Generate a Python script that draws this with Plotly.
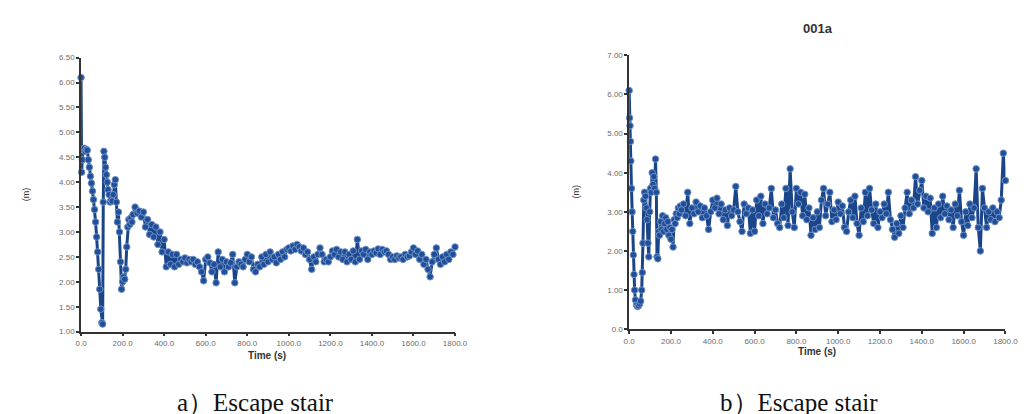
import plotly.graph_objects as go

# ---------------- data ----------------
# Chart a) early part (explicit times, s)
a_t_early = [0, 3, 6, 10, 15, 20, 25, 30, 35, 40, 45, 50, 55, 60, 65, 70, 75, 80, 85, 90,
             95, 100, 104, 107, 110, 114, 118, 122, 126, 130, 135, 140, 145, 150, 155, 160,
             165, 170, 175, 180, 185, 190, 195, 200, 205, 210, 215, 220, 225, 230, 235, 240, 245]
a_v_early = [6.10, 4.20, 4.45, 4.65, 4.68, 4.62, 4.66, 4.64, 4.45, 4.30, 4.12, 3.98, 3.82, 3.65,
             3.45, 3.20, 2.90, 2.60, 2.25, 1.85, 1.45, 1.18, 1.15, 3.60, 4.62, 4.50, 4.30, 4.15,
             4.00, 3.85, 3.75, 3.60, 3.65, 3.62, 3.75, 3.95, 4.05, 3.60, 3.20, 3.40, 3.00, 2.40,
             1.85, 2.00, 2.10, 2.05, 2.25, 2.70, 3.10, 3.25, 3.15, 3.28, 3.20]
# Chart a) from 250 s to 1800 s every 10 s
a_v_late = [
    3.35, 3.50, 3.38, 3.42, 3.30, 3.40, 3.10, 3.25, 2.95, 3.15,   # 250-340
    2.90, 3.10, 2.75, 3.00, 2.60, 2.85, 2.30, 2.60, 2.35, 2.55,   # 350-440
    2.30, 2.55, 2.35, 2.45, 2.40, 2.48, 2.38, 2.45, 2.40, 2.45,   # 450-540
    2.35, 2.40, 2.30, 2.20, 2.02, 2.45, 2.50, 2.38, 2.20, 2.35,   # 550-640
    1.98, 2.60, 2.30, 2.45, 2.20, 2.40, 2.30, 2.38, 2.55, 1.98,   # 650-740
    2.30, 2.40, 2.35, 2.30, 2.45, 2.55, 2.40, 2.50, 2.25, 2.20,   # 750-840
    2.35, 2.30, 2.50, 2.35, 2.55, 2.40, 2.60, 2.45, 2.50, 2.38,   # 850-940
    2.55, 2.45, 2.60, 2.50, 2.65, 2.68, 2.62, 2.72, 2.65, 2.75,   # 950-1040
    2.70, 2.62, 2.68, 2.55, 2.60, 2.45, 2.25, 2.50, 2.40, 2.55,   # 1050-1140
    2.68, 2.55, 2.40, 2.45, 2.40, 2.50, 2.62, 2.55, 2.65, 2.50,   # 1150-1240
    2.60, 2.45, 2.60, 2.40, 2.55, 2.45, 2.62, 2.40, 2.85, 2.45,   # 1250-1340
    2.62, 2.55, 2.65, 2.45, 2.60, 2.55, 2.62, 2.58, 2.66, 2.55,   # 1350-1440
    2.65, 2.60, 2.62, 2.55, 2.45, 2.50, 2.45, 2.52, 2.48, 2.50,   # 1450-1540
    2.45, 2.55, 2.50, 2.52, 2.60, 2.68, 2.55, 2.62, 2.45, 2.55,   # 1550-1640
    2.35, 2.45, 2.25, 2.10, 2.40, 2.55, 2.68, 2.45, 2.35, 2.50,   # 1650-1740
    2.40, 2.55, 2.45, 2.60, 2.55, 2.70,                           # 1750-1800
]

# Chart b) early part (explicit times, s)
b_t_early = [0, 2, 4, 6, 8, 11, 14, 17, 20, 23, 26, 30, 35, 40, 45, 50, 55, 60, 63, 66, 70,
             74, 78, 82, 86, 90, 94, 98, 102, 106, 110, 114, 118, 122, 126, 130, 133, 137, 141,
             145, 150, 155, 160, 165, 170, 175, 180, 185, 190, 195, 200, 205, 210, 215, 220,
             225, 230, 235, 240, 245]
b_v_early = [6.10, 5.40, 5.20, 4.80, 4.30, 3.60, 3.00, 2.50, 1.90, 1.40, 1.00, 0.75, 0.62, 0.58,
             0.60, 0.65, 0.72, 1.00, 1.45, 2.20, 3.30, 3.50, 3.40, 3.10, 2.80, 2.20, 1.85, 3.00,
             3.60, 3.50, 4.00, 3.70, 3.90, 3.60, 4.35, 3.50, 1.85, 1.80, 2.50, 2.40, 2.75, 2.55,
             2.90, 2.50, 2.70, 2.85, 2.55, 2.75, 2.40, 2.60, 2.30, 2.55, 2.10, 2.80, 2.70, 2.95,
             2.85, 3.10, 2.95, 3.15]
# Chart b) from 250 s to 1800 s every 10 s
b_v_late = [
    3.05, 3.20, 2.90, 3.50, 2.70, 3.10, 2.95, 3.25, 3.00, 3.15,   # 250-340
    2.85, 3.10, 2.90, 2.55, 3.00, 3.30, 3.10, 3.35, 2.95, 3.20,   # 350-440
    2.80, 3.05, 2.65, 3.10, 2.90, 3.05, 3.65, 3.00, 2.75, 2.50,   # 450-540
    3.20, 2.95, 3.10, 2.45, 3.05, 2.50, 3.30, 2.90, 3.40, 2.70,   # 550-640
    3.20, 2.95, 3.10, 3.60, 2.85, 3.05, 2.70, 2.60, 3.20, 2.85,   # 650-740
    3.60, 2.65, 4.10, 3.00, 2.60, 3.60, 3.20, 3.50, 2.90, 3.45,   # 750-840
    2.80, 3.10, 2.40, 2.85, 2.55, 3.00, 2.60, 3.30, 3.60, 2.90,   # 850-940
    3.20, 3.50, 2.75, 3.05, 2.80, 3.25, 2.95, 3.15, 2.60, 2.50,   # 950-1040
    3.00, 3.30, 2.85, 3.40, 2.70, 2.40, 3.10, 2.75, 3.50, 2.90,   # 1050-1140
    3.60, 3.05, 2.70, 3.20, 2.60, 3.00, 2.85, 3.20, 2.95, 3.50,   # 1150-1240
    2.80, 2.55, 2.35, 2.70, 2.45, 2.90, 2.60, 3.10, 3.50, 2.95,   # 1250-1340
    3.30, 3.10, 3.90, 3.20, 3.55, 3.80, 3.10, 3.40, 3.00, 3.35,   # 1350-1440
    2.45, 3.10, 2.60, 3.20, 2.85, 3.40, 2.95, 3.15, 2.80, 3.05,   # 1450-1540
    2.60, 3.20, 2.90, 3.55, 2.75, 2.40, 3.00, 2.65, 3.20, 2.85,   # 1550-1640
    3.10, 4.10, 2.60, 2.00, 3.60, 3.10, 2.60, 3.00, 2.80, 3.10,   # 1650-1740
    2.75, 3.00, 2.85, 3.30, 4.50, 3.80,                           # 1750-1800
]

x_ticks = [0, 200, 400, 600, 800, 1000, 1200, 1400, 1600, 1800]
a_y_ticks = [1.0, 1.5, 2.0, 2.5, 3.0, 3.5, 4.0, 4.5, 5.0, 5.5, 6.0, 6.5]
b_y_ticks = [0, 1, 2, 3, 4, 5, 6, 7]
b_y_ticktext = ["0.0", "1.00", "2.00", "3.00", "4.00", "5.00", "6.00", "7.00"]

title_b = "001a"
x_title = "Time (s)"
y_title = "(m)"
caption_a = "a）Escape stair"
caption_b = "b）Escape stair"

a_t = a_t_early + [250 + 10 * i for i in range(len(a_v_late))]
a_v = a_v_early + a_v_late
b_t = b_t_early + [250 + 10 * i for i in range(len(b_v_late))]
b_v = b_v_early + b_v_late

# ---------------- styles ----------------
LINE = "#1b4589"
MFILL = "#1f4f98"
MEDGE = "#6f8fc6"
AXIS = "#333333"
TICKFONT = dict(family="Liberation Sans, Arial, sans-serif", size=8, color="#6b6b6b")

fig = go.Figure()

for t, v, xa, ya in [(a_t, a_v, "x", "y"), (b_t, b_v, "x2", "y2")]:
    fig.add_trace(go.Scatter(
        x=t, y=v, xaxis=xa, yaxis=ya, mode="lines+markers",
        line=dict(color=LINE, width=3),
        marker=dict(symbol="circle", size=6.5, color=MFILL, line=dict(color=MEDGE, width=1)),
        cliponaxis=False, showlegend=False, hoverinfo="x+y",
    ))

common_axis = dict(showgrid=False, zeroline=False, showline=True, linecolor=AXIS,
                   linewidth=1.5, ticks="outside", ticklen=3, tickwidth=1.5,
                   tickcolor=AXIS, tickfont=TICKFONT, fixedrange=True)

# domains from pixel positions in 1033x414
W, H = 1033, 414
ax_l, ax_r = 68.3 / W, 449.3 / W
ay_b, ay_t = 1 - 326.7 / H, 1 - 46.7 / H
bx_l, bx_r = 626.7 / W, 1010.0 / W
by_b, by_t = 1 - 324.3 / H, 1 - 44.3 / H

fig.update_layout(
    width=W, height=H, autosize=False,
    margin=dict(l=0, r=0, t=0, b=0),
    paper_bgcolor="white", plot_bgcolor="white",
    xaxis=dict(domain=[ax_l, ax_r], range=[0, 1800], tickvals=x_ticks,
               tickformat=".1f", anchor="y", **common_axis),
    yaxis=dict(domain=[ay_b, ay_t], range=[1.0, 6.5], tickvals=a_y_ticks,
               tickformat=".2f", anchor="x", **common_axis),
    xaxis2=dict(domain=[bx_l, bx_r], range=[0, 1800], tickvals=x_ticks,
                tickformat=".1f", anchor="y2", **common_axis),
    yaxis2=dict(domain=[by_b, by_t], range=[0, 7], tickvals=b_y_ticks,
                ticktext=b_y_ticktext, anchor="x2", **common_axis),
)

# inside tick halves (so ticks cross the axis lines)
inner = dict(showgrid=False, zeroline=False, showline=False, ticks="inside", ticklen=3,
             tickwidth=1.5, tickcolor=AXIS, showticklabels=False, fixedrange=True)
fig.update_layout(
    xaxis3=dict(overlaying="x", anchor="y", side="bottom", range=[0, 1800], tickvals=x_ticks, **inner),
    yaxis3=dict(overlaying="y", anchor="x", side="left", range=[1.0, 6.5], tickvals=a_y_ticks, **inner),
    xaxis4=dict(overlaying="x2", anchor="y2", side="bottom", range=[0, 1800], tickvals=x_ticks, **inner),
    yaxis4=dict(overlaying="y2", anchor="x2", side="left", range=[0, 7], tickvals=b_y_ticks, **inner),
)

ann_font = dict(family="Liberation Sans, Arial, sans-serif", size=9, color="#333333")
serif = dict(family="Liberation Serif, Times New Roman, serif", size=25, color="#111111")
annotations = [
    dict(text=y_title, x=12.5 / W, y=1 - 186 / H, textangle=-90, font=ann_font),
    dict(text=y_title, x=573 / W, y=1 - 183 / H, textangle=-90, font=ann_font),
    dict(text="<b>" + x_title + "</b>", x=258 / W, y=1 - 351 / H, font=dict(ann_font, size=10)),
    dict(text="<b>" + x_title + "</b>", x=818 / W, y=1 - 347 / H, font=dict(ann_font, size=10)),
    dict(text="<b>" + title_b + "</b>", x=819 / W, y=1 - 17 / H,
         font=dict(family="Liberation Sans, Arial, sans-serif", size=13, color="#333333")),
    dict(text=caption_a, x=246 / W, y=1 - 399 / H, font=serif),
    dict(text=caption_b, x=800 / W, y=1 - 399 / H, font=serif),
]
for a in annotations:
    a.update(xref="paper", yref="paper", showarrow=False, xanchor="center", yanchor="middle")
fig.update_layout(annotations=annotations)

fig.write_html("out.html")
